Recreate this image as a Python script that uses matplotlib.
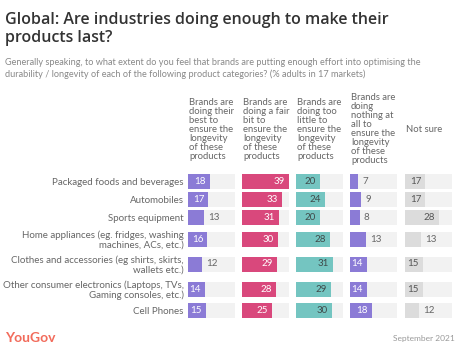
import numpy as np
import matplotlib.pyplot as plt

plt.rcParams['font.family'] = ['Lato', 'DejaVu Sans']

categories = [
    'Packaged foods and beverages',
    'Automobiles',
    'Sports equipment',
    'Home appliances (eg. fridges, washing\nmachines, ACs, etc.)',
    'Clothes and accessories (eg shirts, skirts,\nwallets etc.)',
    'Other consumer electronics (Laptops, TVs,\nGaming consoles, etc.)',
    'Cell Phones',
]
headers = [
    'Brands are\ndoing their\nbest to\nensure the\nlongevity\nof these\nproducts',
    'Brands are\ndoing a fair\nbit to\nensure the\nlongevity\nof these\nproducts',
    'Brands are\ndoing too\nlittle to\nensure the\nlongevity\nof these\nproducts',
    'Brands are\ndoing\nnothing at\nall to\nensure the\nlongevity\nof these\nproducts',
    'Not sure',
]
best = [18, 17, 13, 16, 12, 14, 15]
fair_bit = [39, 33, 31, 30, 29, 28, 25]
too_little = [20, 24, 20, 28, 31, 29, 30]
nothing = [7, 9, 8, 13, 14, 14, 18]
not_sure = [17, 17, 28, 13, 15, 15, 12]
series = [best, fair_bit, too_little, nothing, not_sure]

colors = ['#8b7bd6', '#d9487c', '#74c5c1', '#8b7bd6', '#dcdcdc']
inside_text = ['white', 'white', '#3f4a4a', 'white', '#555555']

W, H = 465, 360
fig = plt.figure(figsize=(W / 100, H / 100), dpi=100)

# row slots grow with the number of label lines
nlines = np.array([c.count('\n') + 1 for c in categories])
slots = 18 + 7 * (nlines - 1)
centers = np.cumsum(slots) - slots / 2
total = slots.sum()

top_px = 172.5
xmax = 39
lefts = [188, 242, 296, 350, 405]
pw = 47

for i, (vals, left) in enumerate(zip(series, lefts)):
    ax = fig.add_axes([left / W, 1 - (top_px + total) / H, pw / W, total / H])
    ax.set_xlim(0, xmax)
    ax.set_ylim(total, 0)
    ax.barh(centers, [xmax] * len(vals), height=15, color='#f2f2f2')
    ax.barh(centers, vals, height=15, color=colors[i])
    for y, v in zip(centers, vals):
        if v >= 14:
            ax.annotate(str(v), (v, y), xytext=(-3, 0), textcoords='offset points',
                        ha='right', va='center', fontsize=7, color=inside_text[i])
        else:
            ax.annotate(str(v), (v, y), xytext=(3, 0), textcoords='offset points',
                        ha='left', va='center', fontsize=7, color='#666666')
    for s in ax.spines.values():
        s.set_visible(False)
    ax.set_xticks([])
    if i == 0:
        ax.set_yticks(centers, categories)
        ax.tick_params(axis='y', length=0, pad=3, labelsize=7, labelcolor='#666666')
        for lab in ax.get_yticklabels():
            lab.set_horizontalalignment('right')
            lab.set_multialignment('right')
            lab.set_linespacing(1.05)
    else:
        ax.set_yticks([])
    fig.text((left + 1) / W, 1 - 129 / H, headers[i], ha='left', va='center',
             fontsize=6.8, color='#666666', linespacing=1.0)

fig.text(5 / W, 1 - 12 / H,
         'Global: Are industries doing enough to make their\nproducts last?',
         ha='left', va='top', fontsize=11.5, fontweight='semibold', color='#333333',
         family=['Open Sans', 'DejaVu Sans'], linespacing=1.2)
fig.text(5 / W, 1 - 58 / H,
         'Generally speaking, to what extent do you feel that brands are putting enough effort into optimising the\n'
         'durability / longevity of each of the following product categories? (% adults in 17 markets)',
         ha='left', va='top', fontsize=6.6, color='#888888', linespacing=1.3)
fig.text(5 / W, 1 - 338 / H, 'YouGov', ha='left', va='center',
         fontsize=10, fontweight='bold', color='#f26b5b')
fig.text(455 / W, 1 - 339 / H, 'September 2021', ha='right', va='center',
         fontsize=6, color='#999999')

fig.savefig('out.png', dpi=100, facecolor='white')
